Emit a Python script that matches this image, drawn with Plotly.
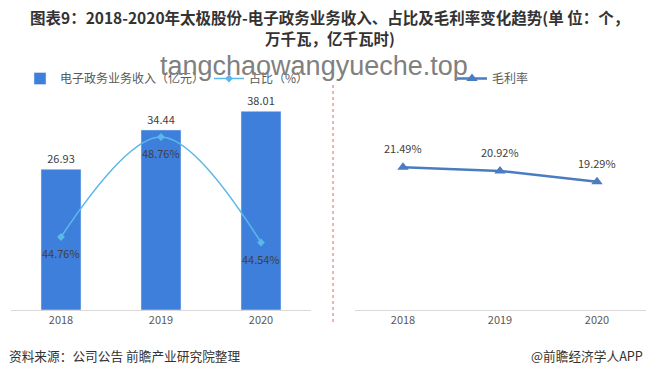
import plotly.graph_objects as go

years = ["2018", "2019", "2020"]
revenue = [26.93, 34.44, 38.01]
share = [44.76, 48.76, 44.54]
margin = [21.49, 20.92, 19.29]

revenue_labels = ["26.93", "34.44", "38.01"]
share_labels = ["44.76%", "48.76%", "44.54%"]
margin_labels = ["21.49%", "20.92%", "19.29%"]

W, H = 650, 377
def px_x(x):
    return x / W
def px_y(y):
    return (H - y) / H

CJK = "Noto Sans CJK SC"
fig = go.Figure()

fig.add_trace(go.Bar(
    x=years, y=revenue, name="电子政务业务收入（亿元）",
    marker=dict(color="#3D7FDB"), width=0.4,
    text=revenue_labels, textposition="outside",
    textfont=dict(size=11, color="#404040", family=CJK),
    cliponaxis=False, xaxis="x", yaxis="y", legend="legend",
))
fig.add_trace(go.Scatter(
    x=years, y=share, name="占比（%）", mode="lines+markers",
    line=dict(color="#5BB8E8", width=1.5, shape="spline"),
    marker=dict(symbol="diamond", size=6, color="#5BB8E8"),
    cliponaxis=False, xaxis="x", yaxis="y2", legend="legend",
))
fig.add_trace(go.Scatter(
    x=years, y=margin, name="毛利率", mode="lines+markers",
    line=dict(color="#4A7CC1", width=2.5),
    marker=dict(symbol="triangle-up", size=10, color="#4A7CC1"),
    cliponaxis=False, xaxis="x2", yaxis="y3", legend="legend2",
))

# category axes: annotations use the category index of each year
lbl_font = dict(size=11, color="#404040", family=CJK)
for i, (yv, t) in enumerate(zip(share, share_labels)):
    fig.add_annotation(x=i, y=yv, xref="x", yref="y2", text=t, showarrow=False,
                       yshift=-16, font=lbl_font)
for i, (yv, t) in enumerate(zip(margin, margin_labels)):
    fig.add_annotation(x=i, y=yv, xref="x2", yref="y3", text=t, showarrow=False,
                       yshift=19, font=lbl_font)

ydom = [px_y(310), px_y(80)]
fig.update_layout(
    width=W, height=H,
    margin=dict(l=0, r=0, t=0, b=0),
    paper_bgcolor="white", plot_bgcolor="white",
    font=dict(family=CJK, color="#404040"),
    xaxis=dict(domain=[px_x(11), px_x(311)], type="category", range=[-0.5, 2.5],
               showline=True, linecolor="#d9d9d9", linewidth=1,
               showgrid=False, ticks="", tickfont=dict(size=11, color="#595959")),
    yaxis=dict(domain=ydom, range=[0, 44], visible=False),
    yaxis2=dict(overlaying="y", range=[41.84, 51.04], visible=False),
    xaxis2=dict(domain=[px_x(354.5), px_x(645.5)], type="category", range=[-0.5, 2.5],
                showline=True, linecolor="#d9d9d9", linewidth=1,
                showgrid=False, ticks="", tickfont=dict(size=11, color="#595959"),
                anchor="y3"),
    yaxis3=dict(domain=ydom, range=[0, 34.6], visible=False, anchor="x2"),
    legend=dict(orientation="h", x=px_x(20), y=px_y(64), xanchor="left", yanchor="top",
                font=dict(size=12, color="#595959", family=CJK),
                bgcolor="rgba(0,0,0,0)", itemwidth=30),
    legend2=dict(orientation="h", x=px_x(452), y=px_y(64), xanchor="left", yanchor="top",
                 font=dict(size=12, color="#595959", family=CJK),
                 bgcolor="rgba(0,0,0,0)", itemwidth=30),
    bargap=0.6,
)

fig.add_shape(type="line", xref="paper", yref="paper",
              x0=px_x(333), x1=px_x(333), y0=px_y(322), y1=px_y(85),
              line=dict(color="#E06666", width=1, dash="dot"))

title_font = dict(size=15.5, color="#333333", family=CJK, weight="bold")
fig.add_annotation(text="图表9：2018-2020年太极股份-电子政务业务收入、占比及毛利率变化趋势(单 位：个，",
                   xref="paper", yref="paper", x=px_x(329), y=px_y(17),
                   xanchor="center", yanchor="middle", showarrow=False, font=title_font)
fig.add_annotation(text="万千瓦，亿千瓦时)",
                   xref="paper", yref="paper", x=px_x(330), y=px_y(38),
                   xanchor="center", yanchor="middle", showarrow=False, font=title_font)
fig.add_annotation(text="tangchaowangyueche.top", xref="paper", yref="paper",
                   x=px_x(314), y=px_y(66), xanchor="center", yanchor="middle",
                   showarrow=False, font=dict(size=27, color="#808080", family="Liberation Sans"))
fig.add_annotation(text="资料来源：公司公告 前瞻产业研究院整理", xref="paper", yref="paper",
                   x=px_x(7), y=px_y(355), xanchor="left", yanchor="middle",
                   showarrow=False, font=dict(size=12.7, color="#333333", family=CJK))
fig.add_annotation(text="@前瞻经济学人APP", xref="paper", yref="paper",
                   x=px_x(645), y=px_y(355), xanchor="right", yanchor="middle",
                   showarrow=False, font=dict(size=12.7, color="#333333", family=CJK))

fig.write_html("out.html", config={"displayModeBar": False},
               post_script="document.body.style.margin='0';document.body.style.overflow='hidden';")
